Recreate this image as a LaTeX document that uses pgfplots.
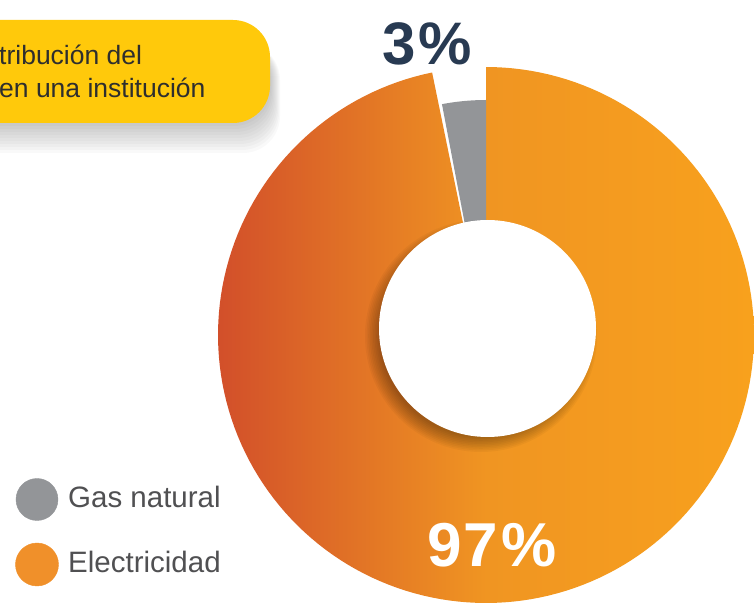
\documentclass[border=0pt]{standalone}
\usepackage{fontspec}
\setmainfont{Liberation Sans}
\usepackage{pgfplots}
\usepackage{pgfplotstable}
\pgfplotsset{compat=1.18}
\definecolor{gasgray}{HTML}{939598}
\definecolor{elleft}{HTML}{D24F2A}
\definecolor{elmid}{HTML}{F09522}
\definecolor{elright}{HTML}{F8A11D}
\definecolor{navy}{HTML}{283A52}
\definecolor{boxyellow}{HTML}{FFC90B}
\definecolor{titletext}{HTML}{2E2E2E}
\definecolor{legtext}{HTML}{505052}
\definecolor{legorange}{HTML}{F0902A}

\pgfplotstableread{
label value
Electricidad 97
Gas 3
}\donutdata

\begin{document}
\begin{tikzpicture}
\pgfplotstablegetelem{0}{value}\of\donutdata \pgfmathsetmacro{\vE}{\pgfplotsretval}
\pgfplotstablegetelem{1}{value}\of\donutdata \pgfmathsetmacro{\vG}{\pgfplotsretval}
\pgfmathsetmacro{\gEnd}{90+3.6*\vG}
\pgfmathsetmacro{\eStart}{\gEnd+0.8}
\pgfmathsetmacro{\eEnd}{\eStart+3.6*\vE-0.8}
\path[use as bounding box] (0,0) rectangle (756pt,603pt);
\clip (0,0) rectangle (756pt,603pt);
\begin{axis}[scale only axis, width=756pt, height=603pt,
  xmin=0, xmax=756, ymin=0, ymax=603, hide axis, clip=false,
  anchor=south west, at={(0pt,0pt)}]
% electricity slice
\addplot[draw=none, left color=elleft, right color=elright, middle color=elmid,
  domain=\eStart:\eEnd, samples=181, variable=\t]
  ({486+268*cos(\t)},{268+268*sin(\t)}) -- (axis cs:486,268) -- cycle;
% gas slice
\addplot[draw=none, fill=gasgray, domain=90:\gEnd, samples=21, variable=\t]
  ({486+235*cos(\t)},{268+235*sin(\t)}) -- (axis cs:486,268) -- cycle;
% inner shadow
\pgfplotsinvokeforeach{1,...,10}{
  \fill[black, opacity=0.035] (axis cs:481,267) circle[radius={100+#1*1.6}];
}
\fill[white] (axis cs:487.5,274.5) circle[radius=108.5];
% labels
\node[anchor=base, inner sep=0, font=\fontsize{60}{60}\selectfont\bfseries, text=navy]
  at (axis cs:427,538) {3\kern3pt\%};
\node[anchor=base, inner sep=0, font=\fontsize{62}{62}\selectfont\bfseries, text=white]
  at (axis cs:492,36) {9\kern1.5pt7\kern3pt\%};
% title box shadow
\pgfplotsinvokeforeach{1,...,10}{
  \fill[black, opacity=0.022, rounded corners=37pt]
    (axis cs:-80,{480-3*#1}) rectangle (axis cs:{270+1*#1},560);
}
\fill[boxyellow, rounded corners=37pt] (axis cs:-80,480) rectangle (axis cs:270,583);
\node[anchor=base west, inner sep=0, font=\fontsize{26.5}{30}\selectfont, text=titletext]
  at (axis cs:-1,538) {tribución del};
\node[anchor=base west, inner sep=0, font=\fontsize{26.5}{30}\selectfont, text=titletext]
  at (axis cs:-1,505) {en una institución};
% legend
\addplot[only marks, mark=*, mark size=21pt, color=gasgray, mark options={draw=none, fill=gasgray}]
  coordinates {(37,103.5)};
\addplot[only marks, mark=*, mark size=21.5pt, color=legorange, mark options={draw=none, fill=legorange}]
  coordinates {(37,38.5)};
\node[anchor=base west, inner sep=0, font=\fontsize{29.5}{30}\selectfont, text=legtext]
  at (axis cs:68,95) {Gas natural};
\node[anchor=base west, inner sep=0, font=\fontsize{29.5}{30}\selectfont, text=legtext]
  at (axis cs:68,30) {Electricidad};
\end{axis}
\end{tikzpicture}
\end{document}
